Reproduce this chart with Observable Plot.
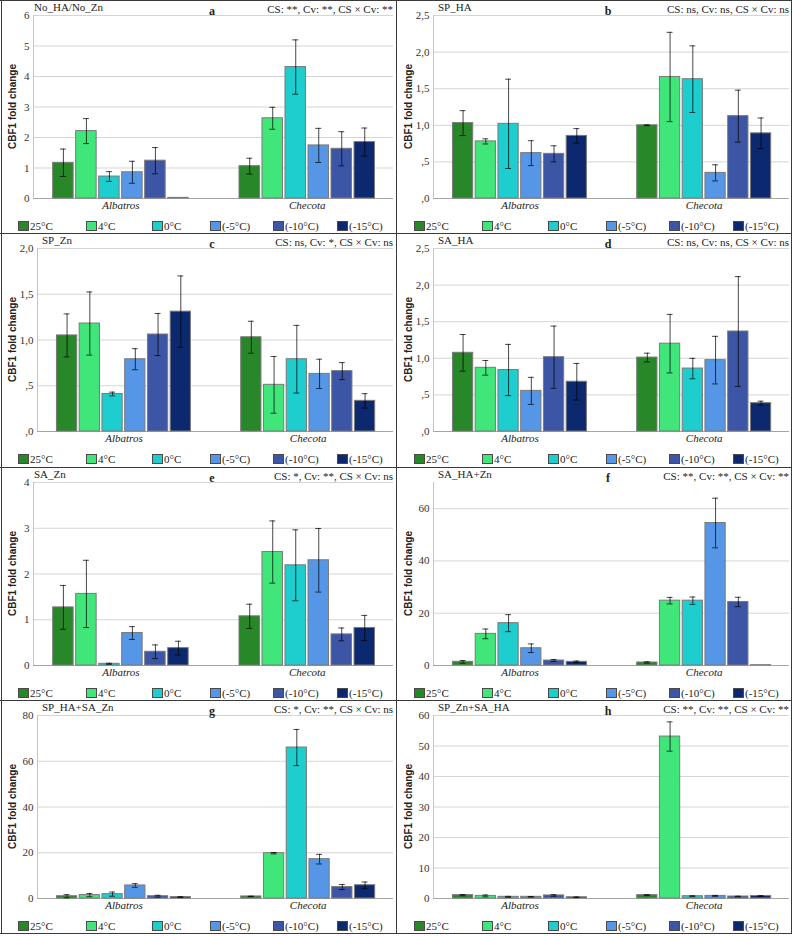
<!DOCTYPE html>
<html>
<head>
<meta charset="utf-8">
<script src="https://cdn.jsdelivr.net/npm/d3@7"></script>
<script src="https://cdn.jsdelivr.net/npm/@observablehq/plot@0.6"></script>
<style>
  body { margin: 0; background: #fff; }
  #fig { position: relative; width: 792px; height: 936px; overflow: hidden; background: #fff; }
  .panel { position: absolute; overflow: hidden; }
  .panel svg { position: absolute; left: 0; top: 0; }
  .line { position: absolute; background: #3a3a3a; }
</style>
</head>
<body>
<div id="fig"></div>
<script>
// Temperature treatments and cultivars
const temps = ["25°C", "4°C", "0°C", "(-5°C)", "(-10°C)", "(-15°C)"];
const tempColors = ["#288728", "#40e67a", "#1ecdcd", "#5596e6", "#3c55a5", "#0c286e"];
const cultivars = ["Albatros", "Checota"];

// Panel headings
const panelTitles = ["No_HA/No_Zn", "SP_HA", "SP_Zn", "SA_HA", "SA_Zn", "SA_HA+Zn", "SP_HA+SA_Zn", "SP_Zn+SA_HA"];
const panelLetters = ["a", "b", "c", "d", "e", "f", "g", "h"];
const panelStats = [
  "CS: **, Cv: **, CS × Cv: **",
  "CS: ns, Cv: ns, CS × Cv: ns",
  "CS: ns, Cv: *, CS × Cv: ns",
  "CS: ns, Cv: ns, CS × Cv: ns",
  "CS: *, Cv: **, CS × Cv: ns",
  "CS: **, Cv: **, CS × Cv: **",
  "CS: *, Cv: **, CS × Cv: ns",
  "CS: **, Cv: **, CS × Cv: **"
];

// Y axes: upper bound and tick values per panel
const panelMax = [6, 2.5, 2, 2.5, 4, 70, 80, 60];
const panelTicks = [
  [0, 1, 2, 3, 4, 5, 6],
  [0, 0.5, 1, 1.5, 2, 2.5],
  [0, 0.5, 1, 1.5, 2],
  [0, 0.5, 1, 1.5, 2, 2.5],
  [0, 1, 2, 3, 4],
  [0, 20, 40, 60],
  [0, 20, 40, 60, 80],
  [0, 10, 20, 30, 40, 50, 60]
];
const commaTicks = [false, true, true, true, false, false, false, false];

// CBF1 fold change (mean) and error, [Albatros, Checota] x temperature
const meanA = [[1.17, 2.21, 0.72, 0.86, 1.24, 0.02], [1.06, 2.63, 4.31, 1.74, 1.63, 1.85]];
const errA  = [[0.45, 0.41, 0.16, 0.36, 0.43, 0],    [0.26, 0.36, 0.89, 0.56, 0.56, 0.46]];
const meanB = [[1.03, 0.78, 1.02, 0.62, 0.61, 0.855], [1.00, 1.66, 1.63, 0.35, 1.125, 0.89]];
const errB  = [[0.17, 0.035, 0.61, 0.17, 0.11, 0.10], [0.005, 0.61, 0.455, 0.11, 0.355, 0.21]];
const meanC = [[1.05, 1.18, 0.41, 0.79, 1.06, 1.31], [1.03, 0.51, 0.79, 0.63, 0.66, 0.335]];
const errC  = [[0.235, 0.345, 0.02, 0.115, 0.23, 0.39], [0.175, 0.31, 0.37, 0.16, 0.093, 0.078]];
const meanD = [[1.075, 0.87, 0.84, 0.555, 1.015, 0.68], [1.01, 1.20, 0.86, 0.975, 1.366, 0.387]];
const errD  = [[0.25, 0.10, 0.35, 0.185, 0.425, 0.25], [0.06, 0.40, 0.14, 0.325, 0.75, 0.027]];
const meanE = [[1.27, 1.565, 0.037, 0.71, 0.30, 0.38], [1.075, 2.48, 2.19, 2.30, 0.68, 0.82]];
const errE  = [[0.48, 0.735, 0.012, 0.14, 0.15, 0.15], [0.265, 0.68, 0.775, 0.695, 0.14, 0.275]];
const meanF = [[1.4, 12.1, 16.2, 6.6, 1.9, 1.4], [1.15, 24.8, 24.8, 54.5, 24.3, 0.1]];
const errF  = [[0.5, 1.85, 3.25, 1.65, 0.4, 0.3], [0.25, 1.25, 1.4, 9.5, 1.8, 0]];
const meanG = [[1.0, 1.5, 1.9, 5.7, 1.0, 0.6], [0.9, 19.8, 66.0, 17.2, 5.0, 5.8]];
const errG  = [[0.7, 0.7, 0.9, 0.8, 0.4, 0.2], [0.1, 0.3, 7.9, 2.1, 1.1, 1.4]];
const meanH = [[1.1, 0.85, 0.55, 0.55, 1.0, 0.4], [1.1, 53.1, 0.75, 0.85, 0.65, 0.8]];
const errH  = [[0.2, 0.3, 0.15, 0.1, 0.25, 0.1], [0.15, 4.8, 0.15, 0.15, 0.1, 0.15]];

const panelMeans = [meanA, meanB, meanC, meanD, meanE, meanF, meanG, meanH];
const panelErrs = [errA, errB, errC, errD, errE, errF, errG, errH];

// Layout
const panelW = 396;
const rowTops = [0, 233, 467, 700];
const rowHeights = [233, 234, 233, 236];
const groupStep = 8.1;             // slot offset between the two cultivar groups
const xDomain = [-1.3, 14.35];
const barHalf = 0.445;
const capHalf = 0.13;
const legendX = [18, 86, 152, 210, 273, 337];
const serif = "'Liberation Serif', 'Times New Roman', serif";
const sans = "'Liberation Sans', Arial, sans-serif";

const fig = document.getElementById("fig");

function drawPanel(i) {
  const col = i % 2, row = Math.floor(i / 2);
  const h = rowHeights[row];
  const panel = document.createElement("div");
  panel.className = "panel";
  Object.assign(panel.style, {left: col * panelW + "px", top: rowTops[row] + "px", width: panelW + "px", height: h + "px"});
  fig.appendChild(panel);

  const means = panelMeans[i], errs = panelErrs[i];
  const rows = [];
  cultivars.forEach((c, g) => temps.forEach((t, k) => rows.push({
    cultivar: c, temp: t, pos: g * groupStep + k, mean: means[g][k], err: errs[g][k]
  })));
  const errRows = rows.filter(d => d.err > 0);

  const ticks = panelTicks[i];
  const fmt = commaTicks[i]
    ? d => d.toFixed(1).replace(".", ",").replace(/^0/, "")
    : d => String(d);
  const wide = ticks.some(t => fmt(t).length > 1);
  const L = wide ? 37 : 33;

  const chart = Plot.plot({
    width: panelW,
    height: 215,
    marginLeft: L,
    marginRight: 3,
    marginTop: 15,
    marginBottom: 17,
    style: {background: "transparent", fontFamily: serif, fontSize: "11px", overflow: "visible"},
    x: {type: "linear", domain: xDomain, axis: null},
    y: {domain: [0, panelMax[i]]},
    color: {domain: temps, range: tempColors},
    marks: [
      Plot.gridY(ticks, {stroke: "#d5d5d5", strokeOpacity: 1}),
      Plot.axisY(ticks, {tickSize: 0, tickPadding: 4, tickFormat: fmt, fontSize: 11, fontFamily: serif, fill: "#333", label: null}),
      Plot.ruleY([0], {stroke: "#a5a5a5"}),
      Plot.ruleX([xDomain[0]], {stroke: "#c4c4c4"}),
      Plot.rectY(rows, {
        x1: d => d.pos - barHalf, x2: d => d.pos + barHalf,
        y1: 0, y2: "mean", fill: "temp", stroke: "#7a7a7a", strokeWidth: 1
      }),
      Plot.ruleX(errRows, {x: "pos", y1: d => d.mean - d.err, y2: d => d.mean + d.err, stroke: "#000", strokeOpacity: 0.72}),
      Plot.ruleY(errRows, {x1: d => d.pos - capHalf, x2: d => d.pos + capHalf, y: d => d.mean + d.err, stroke: "#000", strokeOpacity: 0.72}),
      Plot.ruleY(errRows, {x1: d => d.pos - capHalf, x2: d => d.pos + capHalf, y: d => d.mean - d.err, stroke: "#000", strokeOpacity: 0.72}),
      Plot.text(cultivars, {
        x: (d, g) => g * groupStep + (temps.length - 1) / 2, y: 0, text: d => d,
        dy: 3, lineAnchor: "top", fontStyle: "italic", fontSize: 11, fontFamily: serif, fill: "#222"
      })
    ]
  });
  panel.appendChild(chart);

  // Headings, axis title and legend
  const ov = d3.select(panel).append("svg").attr("width", panelW).attr("height", h)
    .style("font-family", serif).style("font-size", "11px").attr("fill", "#222");
  ov.append("text").attr("x", wide ? 42 : 34).attr("y", 10.5).text(panelTitles[i]);
  ov.append("text").attr("x", 212).attr("y", 14.5).attr("text-anchor", "middle")
    .style("font-weight", "bold").style("font-size", "12px").text(panelLetters[i]);
  ov.append("text").attr("x", 393).attr("y", 13).attr("text-anchor", "end").text(panelStats[i]);
  ov.append("text").attr("transform", "translate(12,106.5) rotate(-90)")
    .attr("text-anchor", "middle").attr("dominant-baseline", "central")
    .style("font-family", sans).style("font-weight", "bold").style("font-size", "10px")
    .text("CBF1 fold change");

  const items = ov.append("g").selectAll("g").data(temps).join("g")
    .attr("transform", (d, k) => `translate(${legendX[k]},0)`);
  items.append("rect").attr("x", 0.5).attr("y", 221.5).attr("width", 10).attr("height", 9)
    .attr("fill", (d, k) => tempColors[k]).attr("stroke", "#4a4a4a").attr("stroke-width", 1);
  items.append("text").attr("x", 12).attr("y", 230).text(d => d);
}

for (let i = 0; i < 8; i++) drawPanel(i);

// Frame lines around and between the panels
function line(x, y, w, h) {
  const el = document.createElement("div");
  el.className = "line";
  Object.assign(el.style, {left: x + "px", top: y + "px", width: w + "px", height: h + "px"});
  fig.appendChild(el);
}
[0, 233, 467, 700, 933].forEach(y => line(0, y, 792, 1));
[1, 396, 791].forEach(x => line(x, 0, 1, 934));
</script>
</body>
</html>
